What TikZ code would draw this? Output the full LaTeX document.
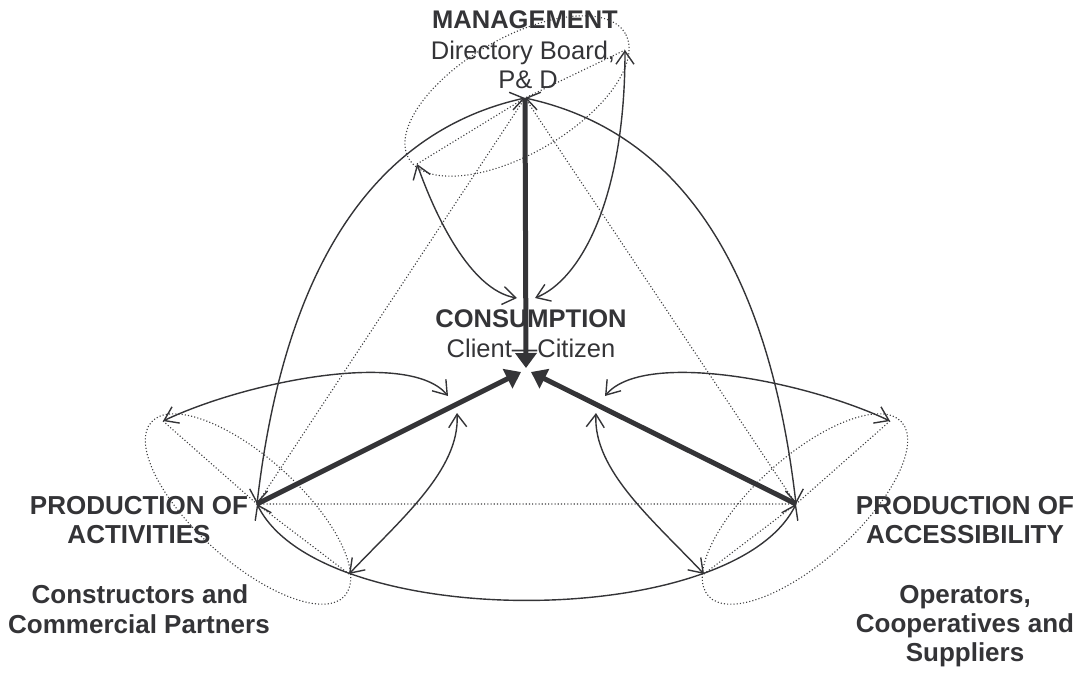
\documentclass[tikz,border=0pt]{standalone}
\usepackage{fontspec}
\setmainfont{Liberation Sans}
\usetikzlibrary{arrows.meta}
\definecolor{ink}{RGB}{52,52,55}
\definecolor{dotc}{RGB}{60,60,62}
\begin{document}
\begin{tikzpicture}[x=1pt,y=-1pt,
  rel/.style={draw=ink, line width=1.4pt, {Straight Barb[length=13pt,width=18pt]}-{Straight Barb[length=13pt,width=18pt]}},
  flow/.style={draw=ink, line width=5pt, -{Triangle[length=15pt,width=21pt]}},
  dotln/.style={draw=dotc, line width=1.1pt, dash pattern=on 1.1pt off 2.1pt},
  lab/.style={text=ink, font=\fontsize{25.5}{30}\selectfont, anchor=base, inner sep=0pt},
  blab/.style={text=ink, font=\fontsize{25.5}{30}\selectfont\bfseries, anchor=base, inner sep=0pt},
  plab/.style={text=ink, font=\fontsize{26}{30}\selectfont\bfseries, anchor=base, inner sep=0pt}]
\useasboundingbox (0,0) rectangle (1083,675);

% key points
\coordinate (M) at (525,98);
\coordinate (A) at (257,504);
\coordinate (B) at (796,504);
\coordinate (Cm) at (526,368);
\coordinate (Cl) at (521,372);
\coordinate (Cr) at (531,372);
% ellipse tips
\coordinate (TL) at (417,164);
\coordinate (TR) at (625,50);
\coordinate (LU) at (163,421);
\coordinate (LL) at (349,574);
\coordinate (RU) at (890,421);
\coordinate (RL) at (704,574);
% inner ends near consumption
\coordinate (c1) at (517,298);
\coordinate (c2) at (535,298);
\coordinate (c3) at (448,396);
\coordinate (c4) at (457,413);
\coordinate (c5) at (605,396);
\coordinate (c6) at (596,413);
% ellipse centres
\coordinate (EM) at (517,96);
\coordinate (EA) at (248,509);
\coordinate (EB) at (805,509);

% labels
\node[blab] (mgmt) at (525,28) {MANAGEMENT};
\node[lab] (dirb) at (523,59) {Directory Board,};
\node[lab] (pd) at (528,88) {P\& D};
\node[blab] (cons) at (531,327) {CONSUMPTION};
\node[lab] (client) at (531,357) {Client—Citizen};
\node[plab] (pa1) at (139,514) {PRODUCTION OF};
\node[plab] (pa2) at (139,543) {ACTIVITIES};
\node[plab] (pa3) at (140,603) {Constructors and};
\node[plab] (pa4) at (139,633) {Commercial Partners};
\node[plab] (pb1) at (965,514) {PRODUCTION OF};
\node[plab] (pb2) at (965,543) {ACCESSIBILITY};
\node[plab] (pb3) at (965,603) {Operators,};
\node[plab] (pb4) at (965,632) {Cooperatives and};
\node[plab] (pb5) at (965,661) {Suppliers};

% dotted structure
\draw[dotln] (M) -- (A) -- (B) -- cycle;
\draw[dotln] (TL) -- (M) -- (TR);
\draw[dotln] (LU) -- (A) -- (LL);
\draw[dotln] (RU) -- (B) -- (RL);
\draw[dotln, rotate around={30:(EM)}] (EM) ellipse [x radius=125pt, y radius=58pt];
\draw[dotln, rotate around={-42:(EA)}] (EA) ellipse [x radius=130pt, y radius=52pt];
\draw[dotln, rotate around={42:(EB)}] (EB) ellipse [x radius=130pt, y radius=52pt];

% thin relations
\draw[rel] (A) .. controls (284,270) and (372,132) .. (M);
\draw[rel] (B) .. controls (769,270) and (681,132) .. (M);
\draw[rel] (TL) .. controls (435,215) and (470,290) .. (c1);
\draw[rel] (TR) .. controls (625,200) and (580,280) .. (c2);
\draw[rel] (LU) .. controls (250,380) and (410,350) .. (c3);
\draw[rel] (LL) .. controls (400,520) and (460,470) .. (c4);
\draw[rel] (RU) .. controls (803,380) and (643,350) .. (c5);
\draw[rel] (RL) .. controls (653,520) and (593,470) .. (c6);
\draw[rel] (A) .. controls (320,632) and (733,632) .. (B);

% thick flows
\draw[flow] (M) -- (Cm);
\draw[flow] (A) -- (Cl);
\draw[flow] (B) -- (Cr);
\end{tikzpicture}
\end{document}
